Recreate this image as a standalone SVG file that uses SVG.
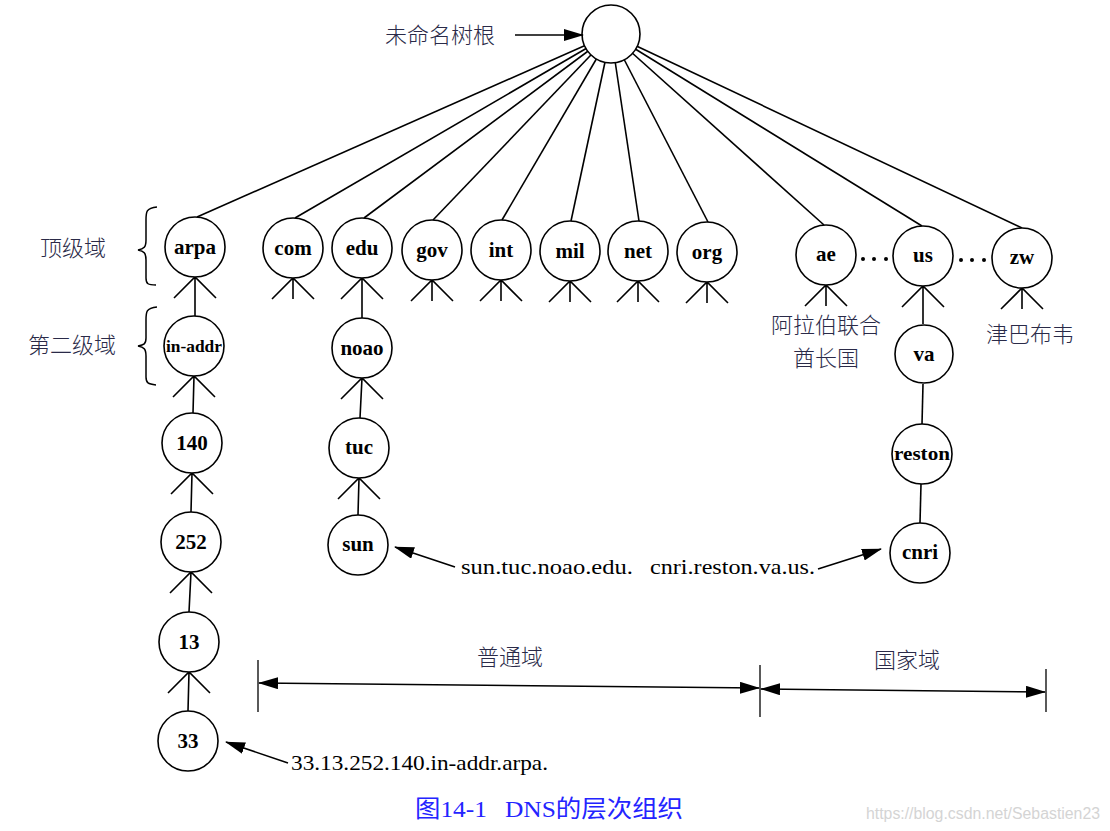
<svg xmlns="http://www.w3.org/2000/svg" width="1110" height="831" viewBox="0 0 1110 831">
<defs>
<marker id="ah" markerWidth="20" markerHeight="12" refX="19" refY="6" orient="auto-start-reverse" markerUnits="userSpaceOnUse">
<path d="M0,0 L20,6 L0,12 Z" fill="#000"/>
</marker>
</defs>
<style>
.n circle{fill:#fff;stroke:#000;stroke-width:1.6}
.n text{font-family:"Liberation Serif",serif;font-weight:bold;font-size:21px;text-anchor:middle;fill:#000}
.c line,.c path{stroke:#000;stroke-width:1.6;fill:none}
.zh{font-family:"Noto Sans CJK SC",sans-serif;font-size:22px;fill:#2a2a48;font-weight:300}
.addr{font-family:"Liberation Serif",serif;font-size:21px;fill:#000}
.arr{stroke:#000;stroke-width:1.6;fill:none;marker-end:url(#ah)}
.cap{font-family:"Liberation Serif","Noto Sans CJK SC",serif;font-size:24px;fill:#2424ff}
</style>
<rect width="1110" height="831" fill="#fff"/>

<g id="connectors" class="c">
<line x1="611" y1="34" x2="197" y2="217"/>
<line x1="611" y1="34" x2="295" y2="218"/>
<line x1="611" y1="34" x2="364" y2="218"/>
<line x1="611" y1="34" x2="433" y2="220"/>
<line x1="611" y1="34" x2="502" y2="220"/>
<line x1="611" y1="34" x2="571" y2="221"/>
<line x1="611" y1="34" x2="639" y2="221"/>
<line x1="611" y1="34" x2="708" y2="222"/>
<line x1="611" y1="34" x2="824" y2="225"/>
<line x1="611" y1="34" x2="922" y2="226"/>
<line x1="611" y1="34" x2="1022" y2="228"/>
<path d="M174,298 L195,277 L216,298 M195,277 L195,316"/>
<path d="M272,299 L293,278 L314,299 M293,278 L293,299"/>
<path d="M341,299 L362,278 L383,299 M362,278 L362,318"/>
<path d="M411,301 L432,280 L453,301 M432,280 L432,301"/>
<path d="M480,301 L501,280 L522,301 M501,280 L501,301"/>
<path d="M549,302 L570,281 L591,302 M570,281 L570,302"/>
<path d="M617,302 L638,281 L659,302 M638,281 L638,302"/>
<path d="M686,303 L707,282 L728,303 M707,282 L707,303"/>
<path d="M805,306 L826,285 L847,306 M826,285 L826,306"/>
<path d="M902,307 L923,286 L944,307 M923,286 L923,324"/>
<path d="M1001,309 L1022,288 L1043,309 M1022,288 L1022,309"/>
<path d="M173,397 L194,376 L215,397 M194,376 L193,413"/>
<path d="M171,494 L192,473 L213,494 M192,473 L191,512"/>
<path d="M170,593 L191,572 L212,593 M191,572 L189,612"/>
<path d="M168,693 L189,672 L210,693 M189,672 L188,711"/>
<path d="M341,399 L362,378 L383,399 M362,378 L360,418"/>
<path d="M338,499 L359,478 L380,499 M359,478 L358,515"/>
<line x1="923" y1="384" x2="922" y2="424"/>
<line x1="921" y1="484" x2="920" y2="523"/>
</g>

<g id="root" class="n"><circle cx="611" cy="34" r="29"/></g>
<g id="arpa" class="n"><circle cx="195" cy="247" r="30"/><text x="195" y="254">arpa</text></g>
<g id="com" class="n"><circle cx="293" cy="248" r="30"/><text x="293" y="255">com</text></g>
<g id="edu" class="n"><circle cx="362" cy="248" r="30"/><text x="362" y="255">edu</text></g>
<g id="gov" class="n"><circle cx="432" cy="250" r="30"/><text x="432" y="257">gov</text></g>
<g id="int" class="n"><circle cx="501" cy="250" r="30"/><text x="501" y="257">int</text></g>
<g id="mil" class="n"><circle cx="570" cy="251" r="30"/><text x="570" y="258">mil</text></g>
<g id="net" class="n"><circle cx="638" cy="251" r="30"/><text x="638" y="258">net</text></g>
<g id="org" class="n"><circle cx="707" cy="252" r="30"/><text x="707" y="259">org</text></g>
<g id="ae" class="n"><circle cx="826" cy="255" r="30"/><text x="826" y="261">ae</text></g>
<g id="us" class="n"><circle cx="923" cy="256" r="30"/><text x="923" y="262">us</text></g>
<g id="zw" class="n"><circle cx="1022" cy="258" r="30"/><text x="1022" y="264">zw</text></g>
<g id="in-addr" class="n"><circle cx="194" cy="346" r="30"/><text x="194" y="352" style="font-size:17px" textLength="56" lengthAdjust="spacingAndGlyphs">in-addr</text></g>
<g id="n140" class="n"><circle cx="192" cy="443" r="30"/><text x="192" y="450">140</text></g>
<g id="n252" class="n"><circle cx="191" cy="542" r="30"/><text x="191" y="549">252</text></g>
<g id="n13" class="n"><circle cx="189" cy="642" r="30"/><text x="189" y="649">13</text></g>
<g id="n33" class="n"><circle cx="188" cy="741" r="30"/><text x="188" y="748">33</text></g>
<g id="noao" class="n"><circle cx="362" cy="348" r="30"/><text x="362" y="355">noao</text></g>
<g id="tuc" class="n"><circle cx="359" cy="448" r="30"/><text x="359" y="454">tuc</text></g>
<g id="sun" class="n"><circle cx="358" cy="545" r="30"/><text x="358" y="551">sun</text></g>
<g id="va" class="n"><circle cx="924" cy="354" r="29"/><text x="924" y="361">va</text></g>
<g id="reston" class="n"><circle cx="922" cy="454" r="30"/><text x="922" y="460" style="font-size:18px" textLength="56" lengthAdjust="spacingAndGlyphs">reston</text></g>
<g id="cnri" class="n"><circle cx="920" cy="553" r="30"/><text x="920" y="559">cnri</text></g>

<g id="dots" fill="#000">
<circle cx="863" cy="259" r="2"/><circle cx="874" cy="259" r="2"/><circle cx="886" cy="259" r="2"/>
<circle cx="961" cy="260" r="2"/><circle cx="972" cy="260" r="2"/><circle cx="984" cy="260" r="2"/>
</g>

<text class="zh" x="385" y="43">未命名树根</text>
<line class="arr" x1="515" y1="35" x2="583" y2="35"/>
<text class="zh" x="40" y="256">顶级域</text>
<text class="zh" x="28" y="353">第二级域</text>
<path d="M157,207 C146,208 146,212 146,220 L146,240 C146,247 144,249 138,250 C144,251 146,253 146,260 L146,278 C146,284 148,285 156,285" stroke="#000" stroke-width="1.5" fill="none"/>
<path d="M157,307 C146,308 146,312 146,320 L146,338 C146,344 144,345 138,346 C144,347 146,349 146,356 L146,377 C146,383 148,384 156,385" stroke="#000" stroke-width="1.5" fill="none"/>
<text class="zh" x="826" y="333" text-anchor="middle">阿拉伯联合</text>
<text class="zh" x="826" y="366" text-anchor="middle">酋长国</text>
<text class="zh" x="1030" y="342" text-anchor="middle">津巴布韦</text>

<text class="addr" x="461" y="574" textLength="172" lengthAdjust="spacingAndGlyphs">sun.tuc.noao.edu.</text>
<line class="arr" x1="455" y1="567" x2="395" y2="547"/>
<text class="addr" x="650" y="574" textLength="165" lengthAdjust="spacingAndGlyphs">cnri.reston.va.us.</text>
<line class="arr" x1="818" y1="569" x2="881" y2="549"/>
<text class="addr" x="291" y="770" textLength="257" lengthAdjust="spacingAndGlyphs">33.13.252.140.in-addr.arpa.</text>
<line class="arr" x1="288" y1="763" x2="226" y2="742"/>

<g id="spans">
<line x1="258" y1="660" x2="258" y2="712" stroke="#000" stroke-width="1.3"/>
<line x1="760" y1="665" x2="760" y2="717" stroke="#000" stroke-width="1.3"/>
<line x1="1046" y1="669" x2="1046" y2="712" stroke="#000" stroke-width="1.3"/>
<line x1="259" y1="683" x2="759" y2="688" stroke="#000" stroke-width="1.6" marker-start="url(#ah)" marker-end="url(#ah)"/>
<line x1="761" y1="689" x2="1045" y2="692" stroke="#000" stroke-width="1.6" marker-start="url(#ah)" marker-end="url(#ah)"/>
</g>
<text class="zh" x="510" y="665" text-anchor="middle">普通域</text>
<text class="zh" x="907" y="668" text-anchor="middle">国家域</text>

<text class="cap" x="415" y="817" textLength="72" lengthAdjust="spacingAndGlyphs">图14-1</text>
<text class="cap" x="505" y="817" textLength="178" lengthAdjust="spacingAndGlyphs">DNS的层次组织</text>
<text x="866" y="819" font-family="'Liberation Sans',sans-serif" font-size="16" fill="#d4d4d4" textLength="234" lengthAdjust="spacingAndGlyphs">https://blog.csdn.net/Sebastien23</text>
</svg>
